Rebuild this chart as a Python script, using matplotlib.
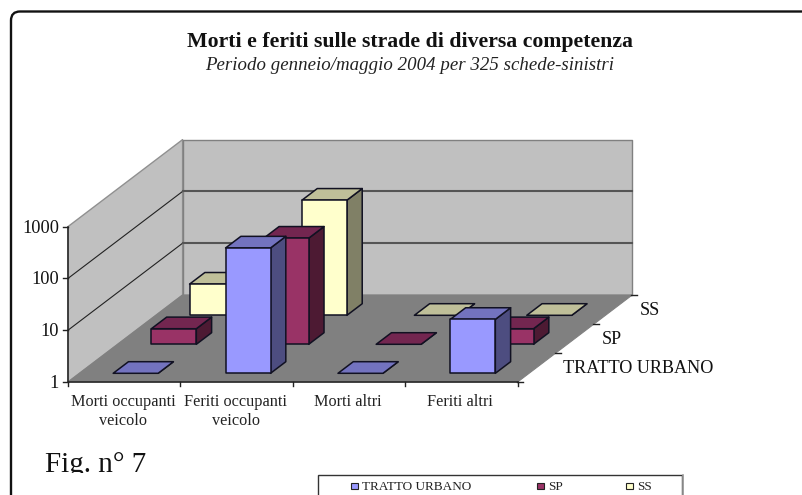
import numpy as np
import matplotlib
matplotlib.use("Agg")
import matplotlib.pyplot as plt
from matplotlib.patches import Polygon, FancyBboxPatch, Rectangle

categories = ["Morti occupanti\nveicolo", "Feriti occupanti\nveicolo", "Morti altri", "Feriti altri"]
series_names = ["TRATTO URBANO", "SP", "SS"]
tratto_urbano = [1, 263, 1, 11]
sp = [2, 112, 1, 2]
ss = [4, 167, 1, 1]
y_ticks = [1, 10, 100, 1000]

face_colors = ["#9999FF", "#993366", "#FFFFCC"]
top_colors = ["#7373BF", "#732650", "#BFBF99"]
side_colors = ["#4D4D80", "#4D1A33", "#808066"]

W, H = 803, 495
FONT = "Liberation Serif"

# oblique projection (pixel geometry of the 3D box)
X0, Y0 = 68.0, 382.0
CAT_W = 112.4
DEPTH_X, DEPTH_Y = 38.2, -29.0
DECADE = 51.8
GAP = 0.3
BAR = 0.4


def proj(cat, ser, val):
    """cat in category units, ser in series units, val in data units (log)."""
    return (X0 + cat * CAT_W + ser * DEPTH_X,
            Y0 + ser * DEPTH_Y - np.log10(val) * DECADE)


fig = plt.figure(figsize=(W / 100, H / 100), dpi=100)
ax = fig.add_axes([0, 0, 1, 1])
ax.set_xlim(0, W)
ax.set_ylim(H, 0)
ax.axis("off")


def poly(points, fc, ec, lw=1.0, z=2):
    ax.add_patch(Polygon(points, closed=True, facecolor=fc, edgecolor=ec,
                         linewidth=lw, joinstyle="round", zorder=z))


# outer rounded frame, running off the right and bottom of the page
ax.add_patch(FancyBboxPatch((11.0, 11.5), 830, 540,
                            boxstyle="round,pad=0,rounding_size=9",
                            facecolor="white", edgecolor="#111111",
                            linewidth=1.7, zorder=0))

ncat, nser = len(categories), len(series_names)
ymax = y_ticks[-1]

# walls and floor
poly([proj(0, 0, 1), proj(0, nser, 1), proj(0, nser, ymax), proj(0, 0, ymax)],
     "#C0C0C0", "#909090", 1.0, 1)
poly([proj(0, nser, 1), proj(ncat, nser, 1), proj(ncat, nser, ymax), proj(0, nser, ymax)],
     "#C0C0C0", "#808080", 1.0, 1)
poly([proj(0, 0, 1), proj(ncat, 0, 1), proj(ncat, nser, 1), proj(0, nser, 1)],
     "#808080", "#808080", 0.8, 1)

# gridlines
for v in y_ticks[1:-1]:
    a, b, c = proj(0, 0, v), proj(0, nser, v), proj(ncat, nser, v)
    ax.plot([a[0], b[0]], [a[1], b[1]], color="#222222", lw=0.8, zorder=1.5)
    ax.plot([b[0], c[0]], [b[1], c[1]], color="#555555", lw=1.5, zorder=1.5)

# axis lines
p = [proj(0, 0, ymax), proj(0, 0, 1), proj(ncat, 0, 1)]
ax.plot([q[0] for q in p], [q[1] for q in p], color="#222222", lw=1.1, zorder=1.8)

# ticks and labels
for v in y_ticks:
    x, y = proj(0, 0, v)
    ax.plot([x - 5, x], [y, y], color="#222222", lw=1.0, zorder=1.8)
    ax.text(x - 9, y + 1.5, str(v), ha="right", va="center", family=FONT,
            fontsize=13.2, color="#111111")
for i in range(ncat + 1):
    x, y = proj(i, 0, 1)
    ax.plot([x, x], [y, y + 4], color="#222222", lw=1.0, zorder=1.8)
for i, lab in enumerate(categories):
    x, y = proj(i + 0.5, 0, 1)
    ax.text(x - 1, y + 12.5, lab, ha="center", va="top", family=FONT, fontsize=11.7,
            color="#222222", linespacing=1.24)
for j in range(nser + 1):
    x, y = proj(ncat, j, 1)
    ax.plot([x - 1, x + 5], [y, y], color="#222222", lw=1.0, zorder=1.8)
for j, name in enumerate(series_names):
    x, y = proj(ncat, j + 0.5, 1)
    ax.text(x + 26.5, y + 1.2, name, ha="left", va="center", family=FONT,
            fontsize=13.1, color="#111111")

# bars, back to front
values = [tratto_urbano, sp, ss]
z = 3
for j in range(nser - 1, -1, -1):
    for i in range(ncat):
        c0, c1 = i + GAP, i + GAP + BAR
        s0, s1 = j + GAP, j + GAP + BAR
        v = values[j][i]
        poly([proj(c1, s0, 1), proj(c1, s1, 1), proj(c1, s1, v), proj(c1, s0, v)],
             side_colors[j], "#111122", 1.1, z)
        poly([proj(c0, s0, v), proj(c1, s0, v), proj(c1, s1, v), proj(c0, s1, v)],
             top_colors[j], "#111122", 1.1, z)
        if v > 1:
            poly([proj(c0, s0, 1), proj(c1, s0, 1), proj(c1, s0, v), proj(c0, s0, v)],
                 face_colors[j], "#111122", 1.1, z)
        z += 0.01

# titles
ax.text(410.5, 47, "Morti e feriti sulle strade di diversa competenza", ha="center",
        va="baseline", family=FONT, weight="bold", fontsize=15.7, color="#111111")
ax.text(409.5, 70, "Periodo genneio/maggio 2004 per 325 schede-sinistri", ha="center",
        va="baseline", family=FONT, style="italic", fontsize=13.6, color="#222222")

# figure caption, cut at its bottom in the source
fig_t = ax.text(45, 472, "Fig. n° 7", ha="left", va="baseline", family=FONT,
                fontsize=21, color="#111111")
fig_t.set_clip_path(Rectangle((0, 0), W, 473, transform=ax.transData))
fig_t.set_clip_on(True)

# legend box, running off the bottom
ax.add_patch(Rectangle((318.5, 474.5), 364, 40, facecolor="white",
                       edgecolor="#333333", linewidth=1.0, zorder=5))
ax.plot([683.5, 683.5], [475, 495], color="#999999", lw=1.2, zorder=5)
legend_x = [351.5, 537.5, 626.5]
for lx, name, col in zip(legend_x, series_names, face_colors):
    ax.add_patch(Rectangle((lx, 483), 6.5, 6, facecolor=col, edgecolor="#222222",
                           linewidth=0.8, zorder=6))
    ax.text(lx + 11, 487.3, name, ha="left", va="center", family=FONT, fontsize=9.5,
            color="#222222", zorder=6)

fig.savefig("out.png", dpi=100)
